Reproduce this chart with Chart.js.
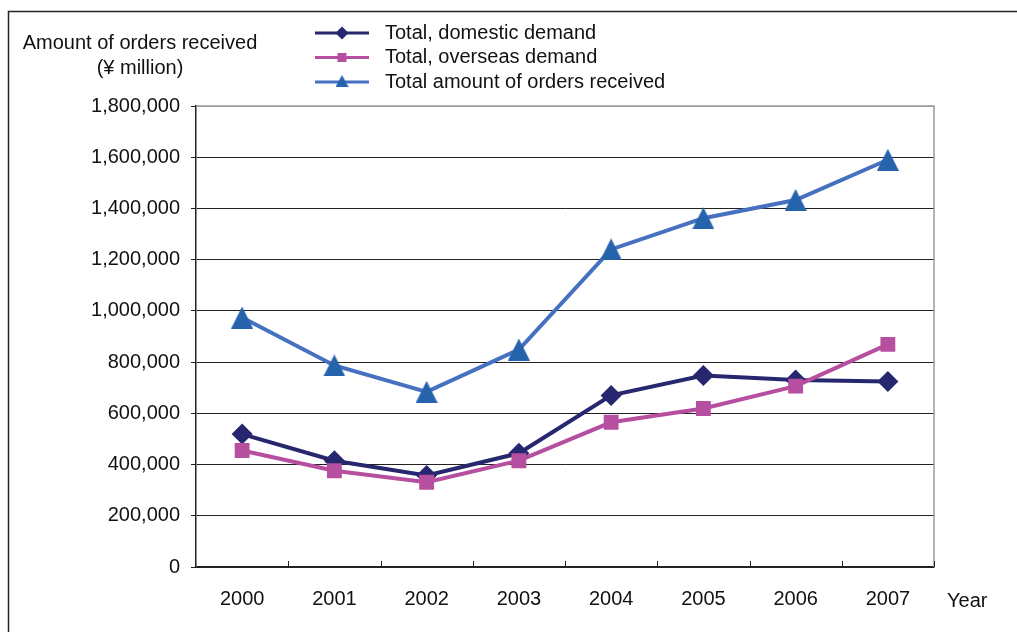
<!DOCTYPE html>
<html>
<head>
<meta charset="utf-8">
<title>Orders received</title>
<script src="https://cdn.jsdelivr.net/npm/chart.js@4.4.0/dist/chart.umd.min.js"></script>
<style>
  html, body { margin: 0; padding: 0; background: #fff; }
  canvas { display: block; }
</style>
</head>
<body>
<canvas id="ordersChart" width="1017" height="632"></canvas>
<script>
// ¥ million, by fiscal year
const years = ["2000", "2001", "2002", "2003", "2004", "2005", "2006", "2007"];
const domestic = [519000, 415000, 357000, 444000, 670000, 748000, 730000, 724000];
const overseas = [455000, 376000, 331000, 415000, 565000, 619000, 706000, 869000];
const total = [974000, 787000, 684000, 849000, 1240000, 1362000, 1433000, 1590000];

const seriesNames = ["Total, domestic demand", "Total, overseas demand", "Total amount of orders received"];
const yMax = 1800000;
const yStep = 200000;

const FONT = "'Liberation Sans', Arial, sans-serif";
const NAVY = "#27276f";
const PINK = "#b64f9f";
const BLUE_LINE = "#4670c0";
const BLUE_MARK = "#2563ad";

function triangleMarker(w, h, color) {
  const c = document.createElement("canvas");
  c.width = w;
  c.height = h;
  const g = c.getContext("2d");
  g.fillStyle = color;
  g.beginPath();
  g.moveTo(w / 2, 0);
  g.lineTo(w, h);
  g.lineTo(0, h);
  g.closePath();
  g.fill();
  return c;
}
const bigTriangle = triangleMarker(22, 22, BLUE_MARK);
const smallTriangle = triangleMarker(13, 12, BLUE_MARK);

// frame, plot border, category ticks, titles and legend
const decorations = {
  id: "decorations",
  beforeDatasetsDraw(chart) {
    const { ctx, chartArea: a } = chart;
    ctx.save();
    // outer frame (only top and left show)
    ctx.strokeStyle = "#222";
    ctx.lineWidth = 1.5;
    ctx.beginPath();
    ctx.moveTo(8.5, 632);
    ctx.lineTo(8.5, 11.5);
    ctx.lineTo(1017, 11.5);
    ctx.stroke();

    // grey top and right edges of plot
    ctx.strokeStyle = "#9a9a9a";
    ctx.lineWidth = 1.5;
    ctx.beginPath();
    ctx.moveTo(a.left, a.top);
    ctx.lineTo(a.right, a.top);
    ctx.lineTo(a.right, a.bottom);
    ctx.stroke();

    // short upward ticks between categories
    const n = years.length;
    ctx.strokeStyle = "#222";
    ctx.lineWidth = 1;
    ctx.beginPath();
    for (let i = 1; i <= n; i++) {
      const x = Math.round(a.left + i * (a.right - a.left) / n) + 0.5;
      ctx.moveTo(x, a.bottom);
      ctx.lineTo(x, a.bottom - 6);
    }
    ctx.stroke();
    ctx.restore();
  },
  afterDraw(chart) {
    const { ctx } = chart;
    ctx.save();
    ctx.fillStyle = "#111";
    ctx.font = "20px " + FONT;
    ctx.textBaseline = "middle";
    ctx.textAlign = "center";
    ctx.fillText("Amount of orders received", 140, 43);
    ctx.fillText("(¥ million)", 140, 68);
    ctx.textAlign = "left";
    ctx.fillText("Year", 947, 601);

    // legend
    const rows = [33, 57.5, 82];
    const x0 = 315, x1 = 369, xm = 342;
    const colors = [NAVY, PINK, BLUE_LINE];
    rows.forEach((y, i) => {
      ctx.strokeStyle = colors[i];
      ctx.lineWidth = 3;
      ctx.beginPath();
      ctx.moveTo(x0, y);
      ctx.lineTo(x1, y);
      ctx.stroke();
      if (i === 0) {
        ctx.fillStyle = NAVY;
        ctx.beginPath();
        ctx.moveTo(xm - 6.5, y);
        ctx.lineTo(xm, y - 6.5);
        ctx.lineTo(xm + 6.5, y);
        ctx.lineTo(xm, y + 6.5);
        ctx.closePath();
        ctx.fill();
      } else if (i === 1) {
        ctx.fillStyle = PINK;
        ctx.fillRect(xm - 4.5, y - 4.5, 9, 9);
      } else {
        ctx.drawImage(smallTriangle, xm - 6.5, y - 7);
      }
      ctx.fillStyle = "#111";
      ctx.fillText(seriesNames[i], 385, y);
    });
    ctx.restore();
  }
};

Chart.defaults.font.family = FONT;
Chart.defaults.font.size = 20;
Chart.defaults.color = "#111";

new Chart(document.getElementById("ordersChart").getContext("2d"), {
  type: "line",
  data: {
    labels: years,
    datasets: [
      {
        label: seriesNames[0],
        data: domestic,
        borderColor: NAVY,
        backgroundColor: NAVY,
        borderWidth: 4,
        pointStyle: "rectRot",
        pointRadius: 10.5,
        pointBorderWidth: 0,
        order: 3
      },
      {
        label: seriesNames[1],
        data: overseas,
        borderColor: PINK,
        backgroundColor: PINK,
        borderWidth: 4,
        pointStyle: "rect",
        pointRadius: 10.5,
        pointBorderWidth: 0,
        order: 2
      },
      {
        label: seriesNames[2],
        data: total,
        borderColor: BLUE_LINE,
        backgroundColor: BLUE_MARK,
        borderWidth: 4,
        pointStyle: bigTriangle,
        pointRadius: 11,
        order: 1
      }
    ]
  },
  options: {
    responsive: false,
    animation: false,
    events: [],
    layout: { padding: { top: 106, right: 83, bottom: 0, left: 0 } },
    plugins: {
      legend: { display: false },
      tooltip: { enabled: false }
    },
    scales: {
      x: {
        type: "category",
        offset: true,
        grid: { display: false },
        border: { display: true, color: "#222", width: 1.5 },
        ticks: { padding: 12, maxRotation: 0 },
        afterFit: (scale) => { scale.height = 65; }
      },
      y: {
        min: 0,
        max: yMax,
        grid: {
          color: (c) => (c.tick && c.tick.value === yMax ? "#9a9a9a" : "#222"),
          tickColor: "#222",
          tickLength: 5,
          lineWidth: 1
        },
        border: { display: true, color: "#222", width: 1.5 },
        ticks: {
          stepSize: yStep,
          padding: 11,
          callback: (v) => v.toLocaleString("en-US")
        },
        afterFit: (scale) => { scale.width = 196; }
      }
    }
  },
  plugins: [decorations]
});
</script>
</body>
</html>
